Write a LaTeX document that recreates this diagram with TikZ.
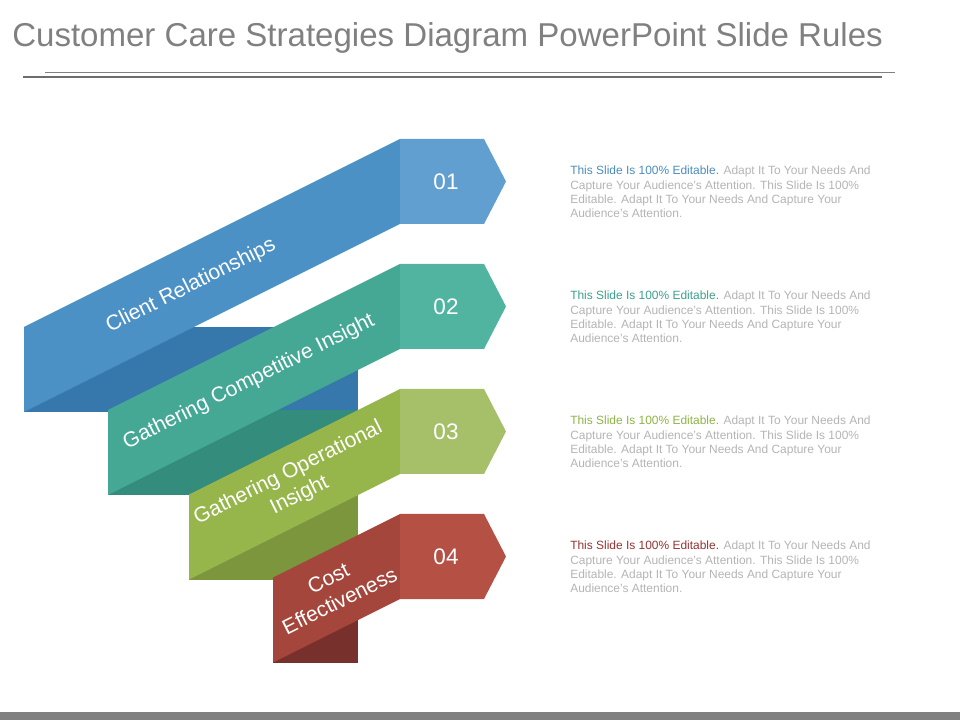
\documentclass[tikz,border=0pt]{standalone}
\usepackage{fontspec}
\setmainfont{Liberation Sans}
\definecolor{box1}{RGB}{96,159,207}
\definecolor{band1}{RGB}{76,145,198}
\definecolor{dark1}{RGB}{54,120,172}
\definecolor{box2}{RGB}{80,180,160}
\definecolor{band2}{RGB}{68,168,148}
\definecolor{dark2}{RGB}{52,140,124}
\definecolor{box3}{RGB}{165,192,105}
\definecolor{band3}{RGB}{150,182,75}
\definecolor{dark3}{RGB}{124,150,62}
\definecolor{box4}{RGB}{180,80,68}
\definecolor{band4}{RGB}{165,70,60}
\definecolor{dark4}{RGB}{120,48,44}
\definecolor{head1}{RGB}{74,140,190}
\definecolor{head2}{RGB}{60,160,140}
\definecolor{head3}{RGB}{140,180,70}
\definecolor{head4}{RGB}{150,50,50}
\definecolor{titlegray}{RGB}{128,128,128}
\definecolor{bodygray}{RGB}{180,180,180}
\newcommand{\blurb}[1]{{\color{#1}This Slide Is 100\% Editable.} Adapt It To Your Needs And\\
Capture Your Audience’s Attention. This Slide Is 100\%\\
Editable. Adapt It To Your Needs And Capture Your\\
Audience’s Attention.}
\begin{document}
\begin{tikzpicture}[x=0.025cm,y=-0.025cm]
\useasboundingbox (0,0) rectangle (960,720);
\node[anchor=west,inner sep=0,text=titlegray,font=\fontsize{23.5}{28}\selectfont] (title) at (12,38) {Customer Care Strategies Diagram PowerPoint Slide Rules};
\draw[titlegray,line width=0.7pt] (45,72) -- (895,72);
\draw[titlegray!85!black,line width=2.1pt] (23,77) -- (882,77);
\foreach \i/\yt/\lx/\tx/\lab in {1/139/24/191/{Client Relationships},2/264/108/249/{Gathering Competitive Insight},3/389/189/294/{Gathering Operational\\Insight},4/514/273/334/{Cost\\Effectiveness}} {
    \pgfmathsetmacro{\dy}{(400-\lx)/2}
    \fill[dark\i] (\lx,\yt+\dy) rectangle (358,\yt+85+\dy);
    \fill[band\i] (\lx,\yt+\dy) -- (400,\yt) -- (400,\yt+85) -- (\lx,\yt+85+\dy) -- cycle;
    \fill[box\i] (400,\yt) -- (484,\yt) -- (506,\yt+42.5) -- (484,\yt+85) -- (400,\yt+85) -- cycle;
    \node[text=white,font=\fontsize{16}{19}\selectfont] (num\i) at (446,\yt+42.5) {0\i};
    \node[text=white,rotate=26.57,align=center,inner sep=1pt,font=\fontsize{15}{18}\selectfont] (lab\i) at (\tx,{\yt+42.5+(400-\tx)/2}) {\lab};
    \node[anchor=north west,align=left,inner sep=0,text=bodygray,font=\fontsize{8.5}{10.2}\selectfont] (txt\i) at (570,\yt+27) {\blurb{head\i}};
}
\fill[titlegray] (0,712) rectangle (960,720);
\end{tikzpicture}
\end{document}
